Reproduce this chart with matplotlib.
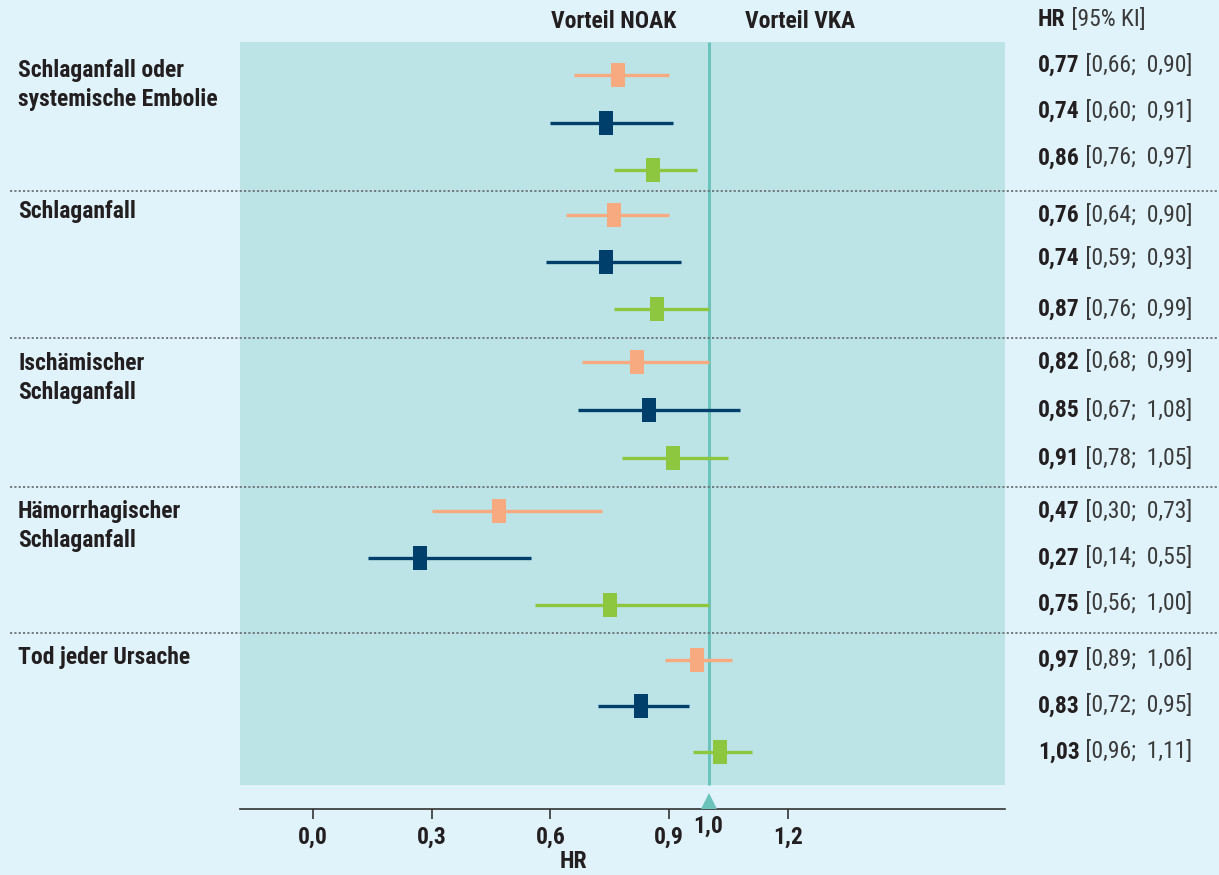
import matplotlib
matplotlib.use("Agg")
import matplotlib.pyplot as plt
from matplotlib import font_manager as fm
from matplotlib.lines import Line2D

# ---------------- data ----------------
groups = ["Schlaganfall oder\nsystemische Embolie", "Schlaganfall",
          "Ischämischer\nSchlaganfall", "Hämorrhagischer\nSchlaganfall",
          "Tod jeder Ursache"]
hr = [0.77, 0.74, 0.86,
      0.76, 0.74, 0.87,
      0.82, 0.85, 0.91,
      0.47, 0.27, 0.75,
      0.97, 0.83, 1.03]
ci_low = [0.66, 0.60, 0.76,
          0.64, 0.59, 0.76,
          0.68, 0.67, 0.78,
          0.30, 0.14, 0.56,
          0.89, 0.72, 0.96]
ci_high = [0.90, 0.91, 0.97,
           0.90, 0.93, 0.99,
           0.99, 1.08, 1.05,
           0.73, 0.55, 1.00,
           1.06, 0.95, 1.11]
# displayed line end as seen in the picture (some lines stop at 1.0)
ci_high_drawn = [0.90, 0.91, 0.97,
                 0.90, 0.93, 1.00,
                 1.00, 1.08, 1.05,
                 0.73, 0.55, 1.00,
                 1.06, 0.95, 1.11]
xticks = [0.0, 0.3, 0.6, 0.9, 1.2]
xtick_labels = ["0,0", "0,3", "0,6", "0,9", "1,2"]
header_left = "Vorteil NOAK"
header_right = "Vorteil VKA"

# ---------------- style ----------------
names = {f.name for f in fm.fontManager.ttflist}
fam = "DejaVu Sans"
for cand in ["Liberation Sans Narrow", "Roboto Condensed", "Open Sans Condensed", "Roboto", "Liberation Sans"]:
    if cand in names:
        fam = cand
        break
plt.rcParams["font.family"] = [fam, "DejaVu Sans"]

BG = "#e0f3fa"
PANEL = "#bce4e6"
REF = "#6cc3bb"
cols = ["#f7aa80", "#003e6b", "#8dc63f"]
TXT = "#231f20"
TXT2 = "#3a3a3a"
FS = 17

W, H = 1219, 875
fig = plt.figure(figsize=(W / 100, H / 100), dpi=100, facecolor=BG)

left_px, right_px = 240, 1005
top_px, bot_px = 42, 809
ax = fig.add_axes([left_px / W, 1 - bot_px / H, (right_px - left_px) / W, (bot_px - top_px) / H])
x0_px, unit_px = 313, 395.6
ax.set_xlim((left_px - x0_px) / unit_px, (right_px - x0_px) / unit_px)
ax.set_ylim(bot_px, top_px)
ax.set_facecolor("none")
for s in ["top", "left", "right"]:
    ax.spines[s].set_visible(False)
ax.spines["bottom"].set_color("#333333")
ax.spines["bottom"].set_linewidth(1.2)
ax.set_yticks([])
ax.set_xticks(xticks)
ax.set_xticklabels(xtick_labels, fontsize=FS, fontweight="bold", color=TXT)
ax.tick_params(axis="x", length=7, width=1.2, color="#333333", pad=5)

# teal panel
ax.axhspan(785, top_px, color=PANEL, zorder=0, lw=0)
ax.plot([1.0, 1.0], [top_px, 785], color=REF, lw=2.2, zorder=1, solid_capstyle="butt")
ax.plot([1.0], [bot_px - 8], marker="^", ms=12, color=REF, zorder=3, clip_on=False, mew=0)

row_y = [75, 123, 170, 215, 262, 309, 362, 410, 458, 511, 558, 605, 660, 706, 752]
sep_y = [191, 338, 487, 633]
group_label_y = [59, 200, 352, 500, 646]
rect = [(-0.28, -0.5), (0.28, -0.5), (0.28, 0.5), (-0.28, 0.5), (-0.28, -0.5)]

for i, (h, lo, hi) in enumerate(zip(hr, ci_low, ci_high_drawn)):
    c = cols[i % 3]
    ax.plot([lo, hi], [row_y[i], row_y[i]], color=c, lw=2.4, zorder=2, solid_capstyle="butt")
    ax.plot([h], [row_y[i]], marker=rect, ms=17.5, color=c, mew=0, zorder=3)

for y in sep_y:
    fig.add_artist(Line2D([10 / W, 1.0], [1 - y / H, 1 - y / H], color="#6d7378",
                          lw=1.3, ls=(0, (1.2, 1.2))))

for g, y in zip(groups, group_label_y):
    fig.text(18 / W, 1 - y / H, g, fontsize=FS, fontweight="bold", color=TXT,
             va="top", ha="left", linespacing=1.32)

fig.text(614 / W, 1 - 22 / H, header_left, fontsize=FS, fontweight="bold", color=TXT, ha="center", va="center")
fig.text(800 / W, 1 - 22 / H, header_right, fontsize=FS, fontweight="bold", color=TXT, ha="center", va="center")
t = fig.text(1038 / W, 1 - 20 / H, "HR", fontsize=FS, fontweight="bold", color=TXT, ha="left", va="center")
ax.annotate(" [95% KI]", xy=(1, 0.5), xycoords=t, va="center", ha="left", fontsize=FS, color=TXT2)

def fmt(v):
    return f"{v:.2f}".replace(".", ",")

text_y = [65, 111, 158, 215, 258, 309, 362, 410, 458, 511, 558, 604, 660, 706, 752]
for i in range(len(hr)):
    tb = fig.text(1038 / W, 1 - text_y[i] / H, fmt(hr[i]), fontsize=FS, fontweight="bold",
                  color=TXT, ha="left", va="center")
    ax.annotate(f" [{fmt(ci_low[i])};  {fmt(ci_high[i])}]", xy=(1, 0.5), xycoords=tb,
                va="center", ha="left", fontsize=FS, color=TXT2)

ax.text(1.0, 826, "1,0", fontsize=FS, fontweight="bold", color=TXT, ha="center", va="center", clip_on=False)
fig.text(573 / W, 1 - 862 / H, "HR", fontsize=FS, fontweight="bold", color=TXT, ha="center", va="center")

fig.savefig("out.png", dpi=100, facecolor=BG)
